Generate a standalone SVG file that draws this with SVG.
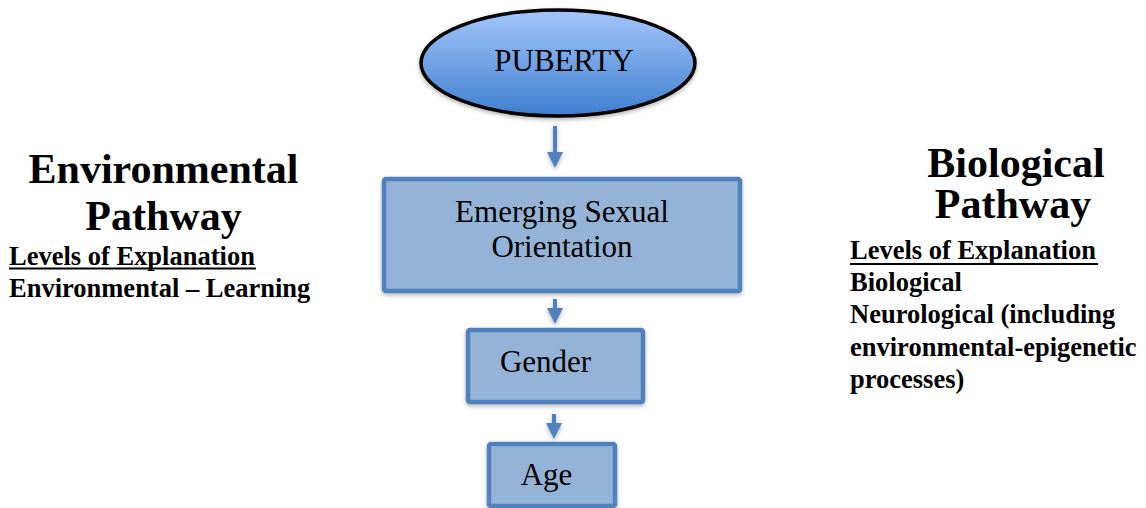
<svg xmlns="http://www.w3.org/2000/svg" width="1146" height="508" viewBox="0 0 1146 508">
<defs>
<linearGradient id="ell" x1="0" y1="0" x2="0" y2="1">
<stop offset="0" stop-color="#a3c6fa"/>
<stop offset="1" stop-color="#3f7fd0"/>
</linearGradient>
<filter id="sh" filterUnits="userSpaceOnUse" x="0" y="0" width="1146" height="508">
<feDropShadow dx="0" dy="2" stdDeviation="2" flood-color="#000" flood-opacity="0.3"/>
</filter>
<marker id="ah" markerWidth="4" markerHeight="4" refX="0" refY="2" orient="auto" markerUnits="strokeWidth">
<path d="M0,0 L4,2 L0,4 Z" fill="#4f81bd"/>
</marker>
</defs>
<style>
.box{fill:#95b3d7;stroke:#4f81bd;stroke-width:4.5;filter:url(#sh)}
.lbl{font-family:"Liberation Serif","Times New Roman",serif;font-size:31px;fill:#000}
.big{font-family:"Liberation Serif","Times New Roman",serif;font-size:42px;font-weight:bold;fill:#000}
.sm{font-family:"Liberation Serif","Times New Roman",serif;font-size:26.5px;font-weight:bold;fill:#000}
.conn{stroke:#4f81bd;stroke-width:4;fill:none;marker-end:url(#ah)}
</style>
<rect width="1146" height="508" fill="#fff"/>
<g id="connectors" filter="url(#sh)">
<line class="conn" x1="555" y1="126" x2="555" y2="152"/>
<line class="conn" x1="555" y1="299" x2="555" y2="308"/>
<line class="conn" x1="554" y1="414" x2="554" y2="423"/>
</g>
<g id="puberty">
<ellipse cx="558" cy="63" rx="137" ry="53" fill="url(#ell)" stroke="#000" stroke-width="3.5" filter="url(#sh)"/>
<text class="lbl" x="564" y="71" text-anchor="middle">PUBERTY</text>
</g>
<g id="emerging">
<rect class="box" x="384" y="179" width="356" height="112" rx="2"/>
<text class="lbl" x="562" y="222" text-anchor="middle">Emerging Sexual</text>
<text class="lbl" x="562" y="257" text-anchor="middle">Orientation</text>
</g>
<g id="gender">
<rect class="box" x="468" y="330" width="175" height="72" rx="2"/>
<text class="lbl" x="545.5" y="372" text-anchor="middle">Gender</text>
</g>
<g id="age">
<rect class="box" x="489" y="444" width="126" height="62" rx="2"/>
<text class="lbl" x="546.5" y="485" text-anchor="middle">Age</text>
</g>
<g id="environmental">
<text class="big" x="163.5" y="183" text-anchor="middle">Environmental</text>
<text class="big" x="163.5" y="230" text-anchor="middle">Pathway</text>
<text class="sm" x="9" y="265">Levels of Explanation</text>
<line x1="9" y1="268.5" x2="256" y2="268.5" stroke="#000" stroke-width="2"/>
<text class="sm" x="9" y="297">Environmental – Learning</text>
</g>
<g id="biological">
<text class="big" x="1016" y="177" text-anchor="middle">Biological</text>
<text class="big" x="1013" y="218" text-anchor="middle">Pathway</text>
<text class="sm" x="850" y="259">Levels of Explanation</text>
<line x1="850" y1="264" x2="1098" y2="264" stroke="#000" stroke-width="2"/>
<text class="sm" x="850" y="291">Biological</text>
<text class="sm" x="850" y="323">Neurological (including</text>
<text class="sm" x="850" y="356">environmental-epigenetic</text>
<text class="sm" x="850" y="388">processes)</text>
</g>
</svg>
